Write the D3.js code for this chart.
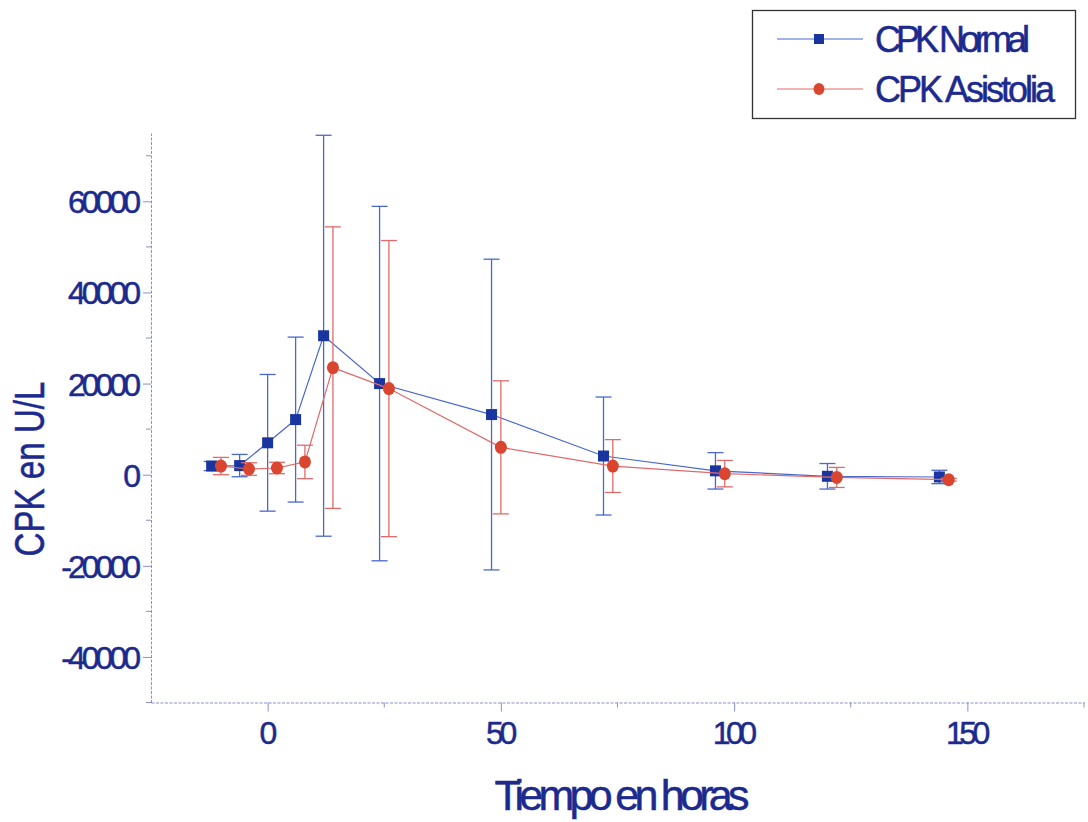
<!DOCTYPE html>
<html>
<head>
<meta charset="utf-8">
<script src="https://cdn.jsdelivr.net/npm/d3@7"></script>
<style>
  html, body { margin: 0; padding: 0; background: #ffffff; }
  svg { display: block; }
  text { font-family: "Liberation Sans", Arial, sans-serif; }
</style>
</head>
<body>
<svg id="chart" width="1088" height="822"></svg>
<script>
// ---- data ----
const hours = [-12, -6, 0, 6, 12, 24, 48, 72, 96, 120, 144];
const normalMean = [1900, 2000, 7000, 12100, 30500, 20000, 13200, 4100, 850, -350, -500];
const normalSD   = [1000, 2450, 15000, 18100, 44000, 38900, 34100, 12950, 4000, 2800, 1470];
const asisMean   = [1900, 1250, 1470, 2800, 23500, 18900, 6000, 1900, 230, -600, -1100];
const asisSD     = [1900, 1380, 1250, 3670, 30900, 32500, 14600, 5800, 2900, 2200, 300];
const yTickValues = [-40000, -20000, 0, 20000, 40000, 60000];
const yMinorValues = [-50000, -30000, -10000, 10000, 30000, 50000, 70000];
const xTickValues = [0, 50, 100, 150];
const xMinorValues = [25, 75, 125, 175];
const seriesNames = ["CPK Normal", "CPK Asistolia"];
const xTitle = "Tiempo en horas";
const yTitle = "CPK en U/L";

// ---- styling ----
const asisOffsetHours = 2;   // the second series is drawn slightly to the right
const navy = "#1c2a8e";
const blueMarker = "#1a35a0";
const blueLine = "#4a68cc";
const redMarker = "#d9452f";
const redLine = "#e06a6a";
const axisColor = "#8a8fc8";
const fmt = d => String(d);   // plain hyphen minus, as in the reference

const svg = d3.select("#chart");

const x = d3.scaleLinear().domain([-25, 175]).range([151, 1084]);
const y = d3.scaleLinear().domain([-50000, 75000]).range([702.5, 133]);

function styleText(sel, size, spacing) {
  sel.attr("font-size", size).attr("fill", navy)
    .attr("stroke", navy).attr("stroke-width", 0.5)
    .attr("letter-spacing", spacing)
    .attr("font-family", "Liberation Sans, Arial, sans-serif");
}

// ---- axes ----
const yAxisG = svg.append("g").attr("transform", `translate(${x(-25)},0)`)
  .call(d3.axisLeft(y).tickValues(yTickValues).tickSize(8).tickSizeOuter(0).tickPadding(6)
        .tickFormat(fmt));
yAxisG.select(".domain").attr("stroke", axisColor).attr("stroke-dasharray", "3,1.5");
yAxisG.selectAll(".tick line").attr("stroke", axisColor);
styleText(yAxisG.selectAll(".tick text").attr("dy", "0.36em"), 32, "-4px");
svg.append("g").selectAll("line").data(yMinorValues).join("line")
  .attr("x1", x(-25) - 5).attr("x2", x(-25))
  .attr("y1", d => y(d)).attr("y2", d => y(d))
  .attr("stroke", axisColor);

const xAxisG = svg.append("g").attr("transform", `translate(0,${y(-50000)})`)
  .call(d3.axisBottom(x).tickValues(xTickValues).tickSize(9).tickSizeOuter(0).tickPadding(10)
        .tickFormat(fmt));
xAxisG.select(".domain").attr("stroke", axisColor).attr("stroke-dasharray", "3,1.5");
xAxisG.selectAll(".tick line").attr("stroke", axisColor);
styleText(xAxisG.selectAll(".tick text").attr("dx", "-2px"), 32, "-4.5px");
svg.append("g").selectAll("line").data(xMinorValues).join("line")
  .attr("x1", d => x(d)).attr("x2", d => x(d))
  .attr("y1", y(-50000)).attr("y2", y(-50000) + 5)
  .attr("stroke", axisColor);

// ---- titles ----
styleText(svg.append("text").attr("x", 622).attr("y", 810).attr("text-anchor", "middle")
  .attr("textLength", 255).attr("lengthAdjust", "spacing")
  .text(xTitle), 43, null);
styleText(svg.append("text").attr("transform", "translate(44,469) rotate(-90)")
  .attr("text-anchor", "middle")
  .attr("textLength", 175).attr("lengthAdjust", "spacingAndGlyphs")
  .text(yTitle), 43, null);

// ---- series ----
const series = [
  { name: seriesNames[0], mean: normalMean, sd: normalSD, off: 0, line: blueLine, marker: blueMarker, shape: "square" },
  { name: seriesNames[1], mean: asisMean, sd: asisSD, off: asisOffsetHours, line: redLine, marker: redMarker, shape: "circle" }
];
const capHalf = 8;

series.forEach(s => {
  const pts = hours.map((h, i) => ({ h: h + s.off, m: s.mean[i], sd: s.sd[i] }));
  const g = svg.append("g");
  // error bars
  const eb = g.append("g").attr("stroke", s.line).attr("stroke-width", 1.3);
  eb.selectAll("line.v").data(pts).join("line").attr("class", "v")
    .attr("x1", d => x(d.h)).attr("x2", d => x(d.h))
    .attr("y1", d => y(d.m + d.sd)).attr("y2", d => y(d.m - d.sd));
  eb.selectAll("line.t").data(pts).join("line").attr("class", "t")
    .attr("x1", d => x(d.h) - capHalf).attr("x2", d => x(d.h) + capHalf)
    .attr("y1", d => y(d.m + d.sd)).attr("y2", d => y(d.m + d.sd));
  eb.selectAll("line.b").data(pts).join("line").attr("class", "b")
    .attr("x1", d => x(d.h) - capHalf).attr("x2", d => x(d.h) + capHalf)
    .attr("y1", d => y(d.m - d.sd)).attr("y2", d => y(d.m - d.sd));
  // connecting line
  g.append("path").datum(pts)
    .attr("fill", "none").attr("stroke", s.line).attr("stroke-width", 1.2)
    .attr("d", d3.line().x(d => x(d.h)).y(d => y(d.m)));
  // markers
  if (s.shape === "square") {
    g.selectAll("rect").data(pts).join("rect")
      .attr("x", d => x(d.h) - 5.5).attr("y", d => y(d.m) - 5.5)
      .attr("width", 11).attr("height", 11).attr("fill", s.marker);
  } else {
    g.selectAll("ellipse").data(pts).join("ellipse")
      .attr("cx", d => x(d.h)).attr("cy", d => y(d.m))
      .attr("rx", 6).attr("ry", 6.5).attr("fill", s.marker);
  }
});

// ---- legend ----
const lg = svg.append("g");
lg.append("rect").attr("x", 752.5).attr("y", 10.5).attr("width", 323).attr("height", 108)
  .attr("fill", "#fff").attr("stroke", "#333").attr("stroke-width", 1.3);
const legendRows = [
  { s: series[0], ly: 39, ty: 52, tl: 155 },
  { s: series[1], ly: 89, ty: 102, tl: 180 }
];
legendRows.forEach(r => {
  lg.append("line").attr("x1", 777).attr("x2", 863).attr("y1", r.ly).attr("y2", r.ly)
    .attr("stroke", r.s.line).attr("stroke-width", 1.2);
  if (r.s.shape === "square") {
    lg.append("rect").attr("x", 814).attr("y", r.ly - 5).attr("width", 10).attr("height", 10).attr("fill", r.s.marker);
  } else {
    lg.append("ellipse").attr("cx", 819).attr("cy", r.ly).attr("rx", 5.5).attr("ry", 6).attr("fill", r.s.marker);
  }
  styleText(lg.append("text").attr("x", 875).attr("y", r.ty)
    .attr("textLength", r.tl).attr("lengthAdjust", "spacing")
    .text(r.s.name), 36, null);
});
</script>
</body>
</html>
